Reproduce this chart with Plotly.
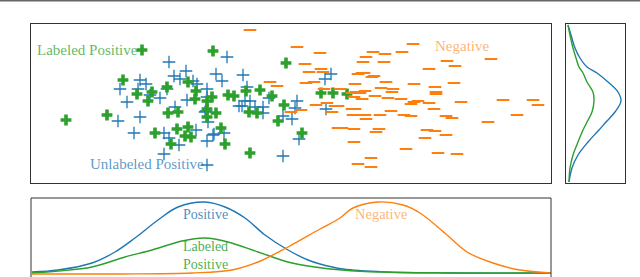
import plotly.graph_objects as go

# ---------------- data (arbitrary latent units) ----------------
unl_x = [19.6, 13.8, 15.5, 14.3, 14.9, 18.5, 19.1, 21.2, 10.9, 11.5, 8.9, 16.2, 16.6, 17.6,
         13.6, 10.7, 11.9, 12.9, 9.6, 15.6, 17.6, 20.8, 14.4, 17.5, 17.7, 8.7, 10.9, 13.3,
         16.5, 10.3, 13.8, 18.3, 19.3, 17.6, 14.8, 13.3, 17.6, 30.0, 29.4, 29.5, 26.6, 26.4,
         25.2, 26.1, 26.8, 25.2, 23.8, 21.6, 21.4, 21.9, 22.4, 23.2, 23.2, 21.1, 18.2, 17.4]
unl_y = [12.6, 12.1, 11.2, 10.7, 10.4, 10.9, 10.2, 10.8, 10.3, 9.9, 9.4, 10.2, 9.9, 9.4,
         9.4, 9.4, 8.8, 8.5, 8.1, 8.3, 8.6, 7.7, 7.6, 7.2, 6.1, 6.2, 6.6, 5.0,
         5.3, 5.0, 4.5, 4.9, 5.0, 4.2, 3.8, 2.9, 1.8, 10.9, 10.4, 7.4, 8.2, 7.5,
         6.7, 6.4, 4.4, 2.7, 8.5, 9.6, 8.2, 8.2, 7.6, 7.6, 7.0, 7.7, 4.8, 7.1]

lab_x = [11.1, 18.2, 9.2, 15.7, 16.5, 13.6, 10.6, 12.1, 11.7, 16.4, 17.6, 18.1, 19.7, 20.3,
         13.7, 14.7, 17.6, 18.5, 17.6, 3.5, 7.6, 12.4, 14.6, 15.7, 15.4, 16.0, 19.0, 14.0,
         19.4, 25.5, 29.0, 30.2, 31.6, 25.3, 24.7, 27.1, 21.9, 24.1, 22.9, 21.5, 21.8, 22.6]
lab_y = [13.3, 13.2, 10.3, 10.1, 9.2, 9.6, 8.9, 9.1, 8.2, 8.4, 8.2, 8.6, 8.8, 8.7,
         7.0, 7.1, 7.4, 7.0, 6.6, 6.3, 6.8, 5.0, 5.4, 5.6, 4.7, 4.6, 5.5, 3.9,
         3.9, 12.0, 9.0, 9.0, 8.9, 7.8, 6.2, 5.0, 3.0, 8.7, 9.3, 9.2, 7.1, 7.0]

neg_x = [21.9, 26.6, 28.9, 27.4, 27.8, 29.0, 29.2, 27.5, 28.3, 23.9, 24.6, 26.0, 27.0, 28.5,
         29.6, 30.4, 30.7, 30.1, 29.3, 30.9, 30.7, 31.1, 32.3, 32.3, 32.7, 34.0, 34.0, 34.8,
         34.5, 32.2, 33.4, 33.5, 34.9, 36.0, 37.3, 38.0, 37.5, 39.4, 39.6, 40.4, 41.5, 40.7,
         42.6, 40.3, 41.5, 42.1, 39.8, 38.0, 38.3, 38.7, 37.0, 35.7, 33.1, 32.3, 32.4, 32.1,
         32.5, 32.9, 33.4, 32.1, 34.4, 35.0, 36.2, 36.1, 35.5, 32.4, 34.1, 32.7, 33.1, 33.3,
         33.2, 33.5, 34.2, 35.4, 35.3, 37.1, 38.2, 39.8, 38.3, 40.4, 40.5, 40.5, 42.3, 41.6,
         42.4, 46.0, 43.0, 47.2, 50.2, 50.7, 45.7, 48.6, 34.3]
neg_y = [15.3, 13.6, 13.0, 11.9, 11.1, 11.4, 11.1, 10.0, 10.1, 10.1, 9.7, 7.1, 7.3, 7.8,
         8.0, 7.7, 7.7, 7.1, 9.4, 9.4, 5.5, 5.5, 5.4, 4.1, 1.9, 2.5, 1.6, 5.4,
         5.1, 6.8, 6.8, 6.4, 6.8, 7.2, 6.8, 6.7, 3.4, 4.5, 5.3, 5.2, 4.8, 3.0,
         2.9, 7.4, 6.7, 6.5, 8.0, 7.9, 8.1, 8.2, 8.4, 8.5, 8.4, 8.6, 7.4, 7.4,
         9.1, 9.0, 9.2, 9.0, 8.7, 9.5, 9.4, 9.1, 10.1, 9.9, 10.6, 10.9, 11.0, 11.0,
         12.1, 12.6, 13.1, 12.9, 12.1, 13.1, 13.9, 11.4, 9.9, 9.6, 9.1, 8.9, 10.0, 12.2,
         11.7, 12.4, 8.1, 8.3, 8.3, 7.8, 6.1, 6.8, 10.7]

# marginal density (right panel)
side_y = [15.8, 14.8, 13.5, 12.5, 11.6, 11.0, 10.1, 9.1, 8.2, 7.1, 6.1, 5.3, 4.1, 2.8, 1.5, 0.1]
side_pos = [0.2, 0.5, 0.9, 1.4, 2.1, 3.1, 4.2, 5.2, 5.5, 4.9, 4.0, 3.3, 2.2, 1.2, 0.6, 0.3]
side_lab = [0.2, 0.4, 0.7, 1.0, 1.3, 1.7, 2.1, 2.7, 2.8, 2.6, 2.1, 1.7, 1.2, 0.7, 0.4, 0.3]

# marginal densities (bottom panel)
bpos_x = [0.1, 2.7, 6.1, 8.4, 10.4, 12.7, 14.7, 17.4, 19.4, 21.4, 23.4, 25.7, 27.7, 28.9, 31.2, 35.6, 41.9, 52.0]
bpos_y = [0.2, 0.4, 1.1, 2.2, 3.6, 5.4, 6.7, 7.2, 6.7, 5.6, 3.9, 2.4, 1.4, 1.0, 0.5, 0.2, 0.1, 0.1]
blab_x = [0.1, 2.7, 6.1, 9.4, 12.1, 15.1, 17.4, 19.7, 22.7, 25.7, 28.4, 31.1, 34.9, 52.0]
blab_y = [0.1, 0.3, 0.7, 1.7, 2.4, 3.3, 3.6, 3.2, 2.2, 1.2, 0.7, 0.4, 0.2, 0.1]
bneg_x = [0.1, 8.9, 16.1, 20.1, 22.7, 25.7, 28.9, 30.9, 32.2, 34.7, 37.2, 38.9, 41.6, 43.6, 46.2, 48.9, 52.0]
bneg_y = [0.0, 0.0, 0.1, 0.4, 1.2, 2.7, 4.5, 5.6, 6.6, 7.2, 6.9, 6.1, 3.9, 2.2, 1.1, 0.4, 0.1]

BLUE, GREEN, ORANGE = "#1f77b4", "#2ca02c", "#ff7f0e"
FONT = "Liberation Serif"

fig = go.Figure()

# main scatter
fig.add_trace(go.Scatter(x=unl_x, y=unl_y, mode="markers", xaxis="x", yaxis="y",
                         marker=dict(symbol="cross-thin-open", size=9, color=BLUE,
                                     line=dict(color=BLUE, width=1.3))))
fig.add_trace(go.Scatter(x=lab_x, y=lab_y, mode="markers", xaxis="x", yaxis="y",
                         marker=dict(symbol="cross", size=9, color=GREEN, line=dict(width=0))))
fig.add_trace(go.Scatter(x=neg_x, y=neg_y, mode="markers", xaxis="x", yaxis="y",
                         marker=dict(symbol="line-ew-open", size=9, color=ORANGE,
                                     line=dict(color=ORANGE, width=2))))

# right marginal
fig.add_trace(go.Scatter(x=side_pos, y=side_y, mode="lines", xaxis="x2", yaxis="y2",
                         line=dict(color=BLUE, width=1.4, shape="spline")))
fig.add_trace(go.Scatter(x=side_lab, y=side_y, mode="lines", xaxis="x2", yaxis="y2",
                         line=dict(color=GREEN, width=1.4, shape="spline")))

# bottom marginal
fig.add_trace(go.Scatter(x=bpos_x, y=bpos_y, mode="lines", xaxis="x3", yaxis="y3",
                         line=dict(color=BLUE, width=1.4, shape="spline")))
fig.add_trace(go.Scatter(x=blab_x, y=blab_y, mode="lines", xaxis="x3", yaxis="y3",
                         line=dict(color=GREEN, width=1.4, shape="spline")))
fig.add_trace(go.Scatter(x=bneg_x, y=bneg_y, mode="lines", xaxis="x3", yaxis="y3",
                         line=dict(color=ORANGE, width=1.4, shape="spline")))

W, H = 640, 277
def px(v): return v / W
def py(v): return 1 - v / H

ax = dict(showgrid=False, zeroline=False, showticklabels=False, ticks="",
          showline=True, mirror=True, linecolor="#333", linewidth=1)

fig.update_layout(
    width=W, height=H, margin=dict(l=0, r=0, t=0, b=0),
    paper_bgcolor="white", plot_bgcolor="white", showlegend=False,
    xaxis=dict(ax, domain=[px(31), px(551)], range=[0, 52]),
    yaxis=dict(ax, domain=[py(183), py(24)], range=[0, 15.9]),
    xaxis2=dict(ax, domain=[px(566), px(625)], range=[0, 5.9], anchor="y2"),
    yaxis2=dict(ax, domain=[py(183), py(24)], range=[0, 15.9], anchor="x2"),
    xaxis3=dict(ax, domain=[0, px(551)], range=[-3.1, 52], anchor="y3", showline=False),
    yaxis3=dict(ax, domain=[0, py(198)], range=[-0.3, 7.6], anchor="x3", showline=False),
    annotations=[
        dict(text="Labeled Positive", x=5.65, y=13.3, xref="x", yref="y", showarrow=False,
             font=dict(family=FONT, size=15, color="rgba(44,160,44,0.75)")),
        dict(text="Unlabeled Positive", x=11.55, y=1.9, xref="x", yref="y", showarrow=False,
             font=dict(family=FONT, size=15, color="rgba(31,119,180,0.75)")),
        dict(text="Negative", x=43.1, y=13.7, xref="x", yref="y", showarrow=False,
             font=dict(family=FONT, size=15, color="rgba(255,127,14,0.6)")),
        dict(text="Positive", x=17.4, y=6.0, xref="x3", yref="y3", showarrow=False,
             font=dict(family=FONT, size=14, color="rgba(31,119,180,0.85)")),
        dict(text="Labeled<br>Positive", x=17.4, y=1.9, xref="x3", yref="y3", showarrow=False,
             font=dict(family=FONT, size=14, color="rgba(44,160,44,0.85)")),
        dict(text="Negative", x=35.0, y=6.0, xref="x3", yref="y3", showarrow=False,
             font=dict(family=FONT, size=14.5, color="rgba(255,127,14,0.6)")),
    ],
    shapes=[
        dict(type="line", xref="paper", yref="paper", x0=0, x1=1,
             y0=py(0.8), y1=py(0.8), line=dict(color="#666", width=1.5)),
        # bottom panel frame (top, left, right; bottom edge lies below the page)
        dict(type="line", xref="paper", yref="paper", x0=px(31), x1=px(551),
             y0=py(198), y1=py(198), line=dict(color="#333", width=1)),
        dict(type="line", xref="paper", yref="paper", x0=px(31), x1=px(31),
             y0=0, y1=py(198), line=dict(color="#333", width=1)),
        dict(type="line", xref="paper", yref="paper", x0=px(551), x1=px(551),
             y0=0, y1=py(198), line=dict(color="#333", width=1)),
    ],
)

fig.write_html("out.html", config={"displayModeBar": False},
               post_script="document.body.style.margin='0px';document.body.style.overflow='hidden';")
